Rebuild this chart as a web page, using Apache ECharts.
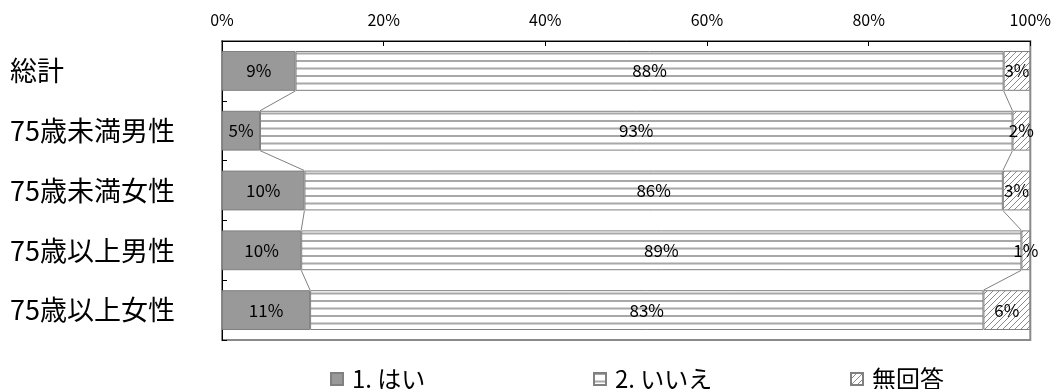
<!DOCTYPE html>
<html><head><meta charset="utf-8">
<script src="https://cdn.jsdelivr.net/npm/echarts@6/dist/echarts.min.js"></script>
<style>html,body{margin:0;padding:0;background:#fff}#c{width:1054px;height:389px}</style>
</head><body><div id="c"></div>
<script>
const categories = ['総計', '75歳未満男性', '75歳未満女性', '75歳以上男性', '75歳以上女性'];
const seriesNames = ['1. はい', '2. いいえ', '無回答'];
const hai = [9.1, 4.7, 10.2, 9.8, 10.9];
const iie = [87.6, 93.1, 86.4, 89.1, 83.3];
const mukaito = [3.3, 2.2, 3.4, 1.1, 5.8];
const tickValues = [0, 20, 40, 60, 80, 100];

function stripePattern() {
  const c = document.createElement('canvas');
  c.width = 8; c.height = 15;
  const g = c.getContext('2d');
  g.fillStyle = '#ffffff'; g.fillRect(0, 0, 8, 15);
  g.fillStyle = '#a8a8a8';
  g.fillRect(0, 0, 8, 2);
  g.fillRect(0, 7.5, 8, 2);
  return c;
}
function hatchPattern() {
  const c = document.createElement('canvas');
  c.width = 6; c.height = 6;
  const g = c.getContext('2d');
  g.fillStyle = '#ffffff'; g.fillRect(0, 0, 6, 6);
  g.strokeStyle = '#8a8a8a'; g.lineWidth = 1;
  g.beginPath();
  g.moveTo(0, 6); g.lineTo(6, 0);
  g.moveTo(-1, 1); g.lineTo(1, -1);
  g.moveTo(5, 7); g.lineTo(7, 5);
  g.stroke();
  return c;
}

const FONT = '"Noto Sans CJK JP", "Noto Sans", sans-serif';
const chart = echarts.init(document.getElementById('c'));

const fills = [
  '#999999',
  { image: stripePattern(), repeat: 'repeat' },
  { image: hatchPattern(), repeat: 'repeat' }
];
const values = [hai, iie, mukaito];

const barSeries = values.map((vals, k) => ({
  name: seriesNames[k],
  type: 'bar',
  stack: 'total',
  barCategoryGap: '33.4%',
  data: vals,
  itemStyle: { color: fills[k], borderColor: '#808080', borderWidth: 1 },
  label: {
    show: true, position: 'inside', color: '#000',
    fontFamily: FONT, fontSize: 17,
    formatter: p => Math.round(p.value) + '%'
  },
  emphasis: { disabled: true },
  z: 2
}));

// series lines data (cumulative boundaries between neighbouring bars)
const lineData = [];
for (let i = 0; i < categories.length - 1; i++) {
  lineData.push([hai[i], i, hai[i + 1], i + 1]);
  lineData.push([hai[i] + iie[i], i, hai[i + 1] + iie[i + 1], i + 1]);
}

const seriesLines = {
  type: 'custom',
  name: 'serieslines',
  data: lineData,
  encode: { x: [0, 2], y: [1, 3] },
  renderItem: function (params, api) {
    const band = api.size([0, 1])[1];
    const p1 = api.coord([api.value(0), api.value(1)]);
    const p2 = api.coord([api.value(2), api.value(3)]);
    return {
      type: 'line',
      shape: { x1: p1[0], y1: p1[1] + band / 3, x2: p2[0], y2: p2[1] - band / 3 },
      style: { stroke: '#808080', lineWidth: 1 }
    };
  },
  silent: true,
  z: 1
};

function legend(name, left) {
  return {
    data: [name], left: left, top: 362, icon: 'rect',
    itemWidth: 12, itemHeight: 12,
    textStyle: { fontFamily: FONT, fontSize: 24, color: '#000', padding: [0, 0, 0, 4] },
    selectedMode: false
  };
}

chart.setOption({
  animation: false,
  backgroundColor: '#fff',
  grid: { left: 222, right: 22, top: 41, bottom: 49, show: true, borderColor: '#8a8a8a', borderWidth: 2 },
  xAxis: {
    type: 'value', position: 'top', min: tickValues[0], max: tickValues[tickValues.length - 1], interval: 20,
    axisLine: { show: true, lineStyle: { color: '#000', width: 1 } },
    axisTick: { show: true, inside: true, length: 5, lineStyle: { color: '#000' } },
    splitLine: { show: false },
    axisLabel: { formatter: '{value}%', fontFamily: FONT, fontSize: 16, color: '#000', margin: 13 }
  },
  yAxis: {
    type: 'category', data: categories, inverse: true,
    axisLine: { show: true, lineStyle: { color: '#000', width: 1 } },
    axisTick: { show: true, inside: true, length: 5, lineStyle: { color: '#000' } },
    axisLabel: { fontFamily: FONT, fontSize: 27, color: '#000', align: 'left', margin: 212, padding: [9, 0, 0, 0] }
  },
  legend: [legend(seriesNames[0], 325), legend(seriesNames[1], 588), legend(seriesNames[2], 845)],
  series: barSeries.concat([seriesLines])
});
</script></body></html>
